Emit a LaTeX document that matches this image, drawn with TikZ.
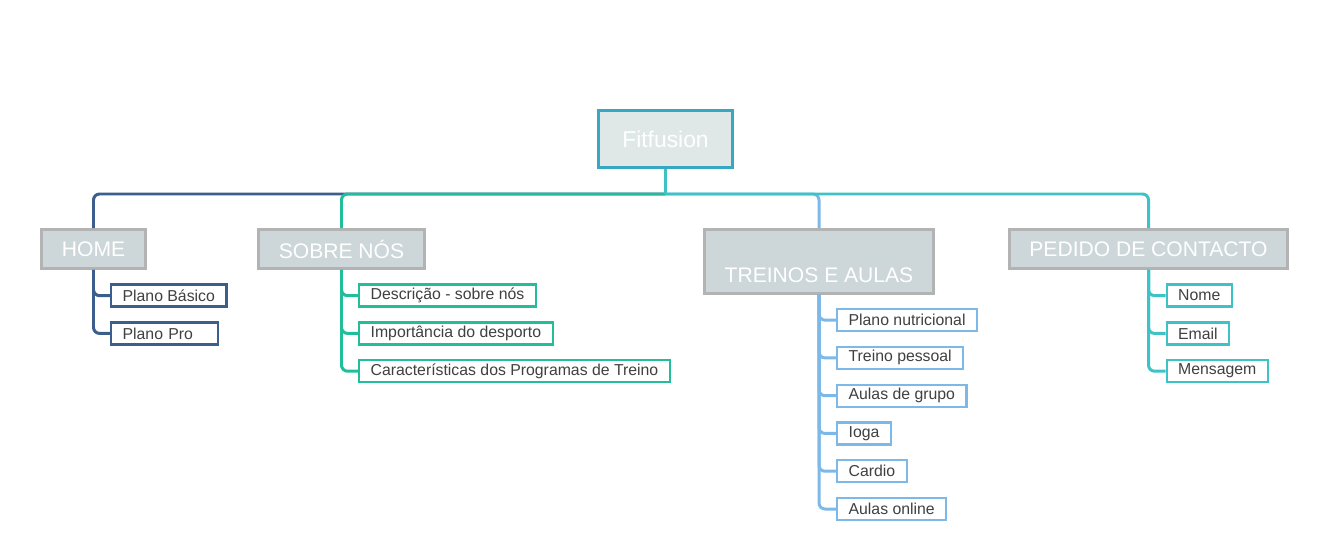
\documentclass[tikz,border=0pt]{standalone}
\usepackage{fontspec}
\setmainfont{Liberation Sans}
\usetikzlibrary{positioning}
\definecolor{homeblue}{HTML}{3B5E8C}
\definecolor{sobregreen}{HTML}{22BE9C}
\definecolor{treinosblue}{HTML}{7CB9E8}
\definecolor{pedidoteal}{HTML}{3DC3C6}
\definecolor{rootline}{HTML}{36A8C2}
\definecolor{rootfill}{HTML}{DFE7E7}
\definecolor{topicfill}{HTML}{CDD7D9}
\definecolor{topicline}{HTML}{B3B3B3}
\definecolor{leaftext}{HTML}{404040}
\begin{document}
\begin{tikzpicture}[x=0.02cm, y=-0.02cm, node distance=0.27cm]
		\tikzstyle{root} = [rectangle, draw=rootline, fill=rootfill, line width=1.7pt, 
		text=white, font=\fontsize{13}{15}\selectfont, minimum width=2.68cm, minimum height=1.14cm]
		\tikzstyle{topic} = [rectangle, draw=topicline, fill=topicfill, line width=1.7pt, 
		text=white, font=\fontsize{12}{14}\selectfont, minimum height=0.78cm, inner xsep=0.4cm, align=center]
		\tikzstyle{leaf} = [rectangle, fill=white, line width=1.3pt, text=leaftext, 
		font=\fontsize{9}{11}\selectfont, minimum height=0.44cm, inner xsep=0.23cm, inner ysep=0pt]
		\tikzstyle{link} = [line width=1.7pt, rounded corners=0.12cm]
		\useasboundingbox (0,0) rectangle (1331,558);
		\node (fitfusion) [root] at (665.5,139) {Fitfusion};
		\node (home) [topic] at (93.5,249) {HOME};
		\node (sobre) [topic] at (341.5,249) {SOBRE NÓS};
		\node (treinos) [topic, minimum height=1.28cm] at (819,261.5) {{}\\[10pt]TREINOS E AULAS};
		\node (pedido) [topic] at (1148.5,249) {PEDIDO DE CONTACTO};
		\coordinate (bus) at (665.5,194);
		\node (basico) [leaf, draw=homeblue, below right=0.27cm and 0.33cm of home.south] {Plano Básico};
		\node (pro) [leaf, draw=homeblue, minimum width=2.14cm, align=left, text width=1.68cm, below=of basico.south west, anchor=north west] {Plano Pro};
		\node (descricao) [leaf, draw=sobregreen, below right=0.27cm and 0.33cm of sobre.south] {Descrição - sobre nós};
		\node (importancia) [leaf, draw=sobregreen, below=of descricao.south west, anchor=north west] {Importância do desporto};
		\node (caracteristicas) [leaf, draw=sobregreen, below=of importancia.south west, anchor=north west] {Características dos Programas de Treino};
		\node (nutricional) [leaf, draw=treinosblue, below right=0.26cm and 0.34cm of treinos.south] {Plano nutricional};
		\node (pessoal) [leaf, draw=treinosblue, below=of nutricional.south west, anchor=north west] {Treino pessoal};
		\node (grupo) [leaf, draw=treinosblue, below=of pessoal.south west, anchor=north west] {Aulas de grupo};
		\node (ioga) [leaf, draw=treinosblue, below=of grupo.south west, anchor=north west] {Ioga};
		\node (cardio) [leaf, draw=treinosblue, below=of ioga.south west, anchor=north west] {Cardio};
		\node (online) [leaf, draw=treinosblue, below=of cardio.south west, anchor=north west] {Aulas online};
		\node (nome) [leaf, draw=pedidoteal, below right=0.27cm and 0.34cm of pedido.south] {Nome};
		\node (email) [leaf, draw=pedidoteal, below=of nome.south west, anchor=north west] {Email};
		\node (mensagem) [leaf, draw=pedidoteal, below=of email.south west, anchor=north west] {Mensagem};
		\draw [link, homeblue] (home.north) |- (bus);
		\draw [link, sobregreen] (sobre.north) |- (bus);
		\draw [link, treinosblue] (treinos.north) |- (bus);
		\draw [link, pedidoteal] (pedido.north) |- (bus);
		\draw [link, pedidoteal] (fitfusion.south) -- (bus);
		\draw [link, homeblue] (home.south) |- (basico.west);
		\draw [link, homeblue] (home.south) |- (pro.west);
		\draw [link, sobregreen] (sobre.south) |- (descricao.west);
		\draw [link, sobregreen] (sobre.south) |- (importancia.west);
		\draw [link, sobregreen] (sobre.south) |- (caracteristicas.west);
		\draw [link, treinosblue] (treinos.south) |- (nutricional.west);
		\draw [link, treinosblue] (treinos.south) |- (pessoal.west);
		\draw [link, treinosblue] (treinos.south) |- (grupo.west);
		\draw [link, treinosblue] (treinos.south) |- (ioga.west);
		\draw [link, treinosblue] (treinos.south) |- (cardio.west);
		\draw [link, treinosblue] (treinos.south) |- (online.west);
		\draw [link, pedidoteal] (pedido.south) |- (nome.west);
		\draw [link, pedidoteal] (pedido.south) |- (email.west);
		\draw [link, pedidoteal] (pedido.south) |- (mensagem.west);
\end{tikzpicture}
\end{document}
